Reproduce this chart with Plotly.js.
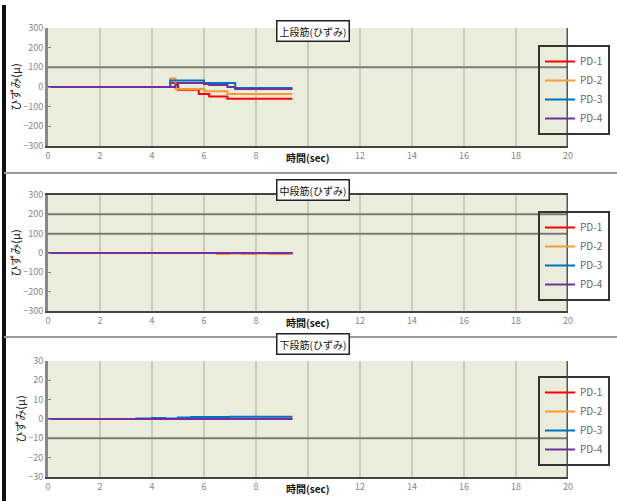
<!DOCTYPE html>
<html><head><meta charset="utf-8">
<script src="https://cdn.plot.ly/plotly-3.0.1.min.js"></script>
<style>html,body{margin:0;padding:0;background:#fff}#chart{width:617px;height:501px}</style>
</head><body><div id="chart"></div>
<script>
// ---- data ----
const seriesNames = ["PD-1","PD-2","PD-3","PD-4"];
const seriesColors = ["#ff0000","#ff9933","#0070c0","#7030a0"];
const panelTitles = ["上段筋(ひずみ)","中段筋(ひずみ)","下段筋(ひずみ)"];
const yTitle = "ひずみ(μ)";
const xTitle = "時間(sec)";
const xTickVals = [0,2,4,6,8,10,12,14,16,18,20];
const xTickText = ["0","2","4","6","8","","12","14","16","18","20"];
const y1Ticks = [300,200,100,0,-100,-200,-300];
const y2Ticks = [300,200,100,0,-100,-200,-300];
const y3Ticks = [30,20,10,0,-10,-20,-30];
const refLines1 = [100];
const refLines2 = [200,100];
const refLines3 = [-10];

// panel 1
const t1 = [0,1,2,3,4,4.6,4.7,4.9,5.0,5.5,5.8,6.0,6.2,6.6,6.9,7.2,8.0,9.0,9.4];
const p1_pd1 = [0,0,0,0,0,0,20,20,-14,-14,-36,-36,-48,-48,-60,-60,-60,-60,-60];
const p1_pd2 = [0,0,0,0,0,0,43,-10,-10,-10,-10,-22,-22,-22,-36,-36,-36,-36,-36];
const p1_pd3 = [0,0,0,0,0,0,33,33,33,33,33,20,20,20,20,-5,-5,-5,-5];
const p1_pd4 = [0,0,0,0,0,0,0,10,20,20,20,15,10,10,0,-10,-10,-10,-10];
// panel 2
const t2 = [0,2,4,6,6.5,7,7.5,8,8.5,9,9.4];
const p2_pd1 = [0,0,0,0,-2,0,-3,0,-2,-2,-2];
const p2_pd2 = [0,0,0,0,-4,-2,-4,-3,-4,-3,-4];
const p2_pd3 = [0,0,0,0,0,0,0,0,0,0,0];
const p2_pd4 = [0,0,0,0,0,0,0,0,0,0,0];
// panel 3
const t3 = [0,1,2,3,3.4,4,4.5,5,5.5,6,7,8,9,9.4];
const p3_pd1 = [0,0,0,0,0,0,0,0,0,0,0,0,0,0];
const p3_pd2 = [0,0,0,0,0,0,0,0,0.2,0.3,0.2,0.3,0.2,0.2];
const p3_pd3 = [0,0,0,0,0.3,0.5,0.3,0.8,1,1,1.2,1.2,1.2,1.2];
const p3_pd4 = [0,0,0,0,0,0,0,0,0,0,0,0,0,0];

// ---- build ----
const W=617,H=501,L=48,R=49;
const px2py = p => 1 - p/H;
const px2x = p => (p-L)/(W-L-R);
const panels = [
  {t:t1, ys:[p1_pd1,p1_pd2,p1_pd3,p1_pd4], xa:'x', ya:'y', lg:'legend', top:28, bot:146, ticks:y1Ticks, refs:refLines1, lgTop:45, title:panelTitles[0], titleY:20},
  {t:t2, ys:[p2_pd1,p2_pd2,p2_pd3,p2_pd4], xa:'x2', ya:'y2', lg:'legend2', top:195, bot:311, ticks:y2Ticks, refs:refLines2, lgTop:211, title:panelTitles[1], titleY:190},
  {t:t3, ys:[p3_pd1,p3_pd2,p3_pd3,p3_pd4], xa:'x3', ya:'y3', lg:'legend3', top:361, bot:477, ticks:y3Ticks, refs:refLines3, lgTop:376, title:panelTitles[2], titleY:355}
];
const FONT = "'Noto Sans CJK JP', 'DejaVu Sans', sans-serif";
const traces=[]; const layout={
  width:W,height:H,margin:{l:L,r:R,t:0,b:0},paper_bgcolor:'#fff',plot_bgcolor:'#eaeddc',
  font:{family:FONT,size:9,color:'#777'},showlegend:true,shapes:[],annotations:[]
};
panels.forEach((p,i)=>{
  seriesNames.forEach((n,k)=>{
    traces.push({type:'scatter',mode:'lines',x:p.t,y:p.ys[k],name:n,xaxis:p.xa,yaxis:p.ya,
      legend:p.lg,line:{color:seriesColors[k],width:2,shape:'hv'},hoverinfo:'skip'});
  });
  const s = i===0?'':String(i+1);
  layout['xaxis'+s]={domain:[0,1],anchor:'y'+s,range:[0,20],tickvals:xTickVals,ticktext:xTickText,
    showgrid:true,gridcolor:'#c9ccb9',gridwidth:1.5,zeroline:false,showline:true,linecolor:'#444',linewidth:2,
    ticks:'',tickfont:{size:9,color:'#888',family:FONT},fixedrange:true, mirror: i===1};
  layout['yaxis'+s]={domain:[px2py(p.bot),px2py(p.top)],anchor:'x'+s,range:[p.ticks[p.ticks.length-1],p.ticks[0]],
    tickvals:p.ticks,showgrid:false,zeroline:false,showline:true,linecolor:'#888',linewidth:3,
    ticks:'inside',ticklen:3,tickcolor:'#888',tickfont:{size:9,color:'#888',family:FONT},
    title:{text:yTitle,font:{size:11,color:'#222',family:FONT},standoff:0},fixedrange:true};
  layout[p.lg==='legend'?'legend':p.lg]={x:px2x(538),xanchor:'left',y:px2py(p.lgTop),yanchor:'top',
    bgcolor:'rgba(0,0,0,0)',bordercolor:'#333',borderwidth:2,font:{size:10,color:'#666',family:FONT},
    tracegroupgap:0,itemwidth:30};
  p.refs.forEach(v=>layout.shapes.push({type:'line',xref:p.xa,yref:p.ya,x0:0,x1:20,y0:v,y1:v,line:{color:'#7a7a72',width:2}}));
  layout.shapes.push({type:'line',xref:p.xa,yref:p.ya,x0:20,x1:20,y0:p.ticks[p.ticks.length-1],y1:p.ticks[0],line:{color:'#555',width:3}});
  layout.annotations.push({xref:'paper',yref:'paper',x:px2x(313),y:px2py(p.titleY),text:p.title,showarrow:false,
    font:{size:10,color:'#111',family:FONT},bgcolor:'#fff',bordercolor:'#222',borderwidth:1.5,borderpad:2});
  // x-axis title sits where the "10" tick label would be
  layout.annotations.push({xref:p.xa,yref:'paper',x:10,y:px2py(p.bot+11),text:'<b>'+xTitle+'</b>',showarrow:false,
    font:{size:10,color:'#111',family:FONT},yanchor:'middle'});
});
// figure frame lines
layout.shapes.push({type:'line',xref:'paper',yref:'paper',x0:px2x(4),x1:px2x(4),y0:0,y1:px2py(5),line:{color:'#111',width:4}});
[173,337].forEach(v=>layout.shapes.push({type:'line',xref:'paper',yref:'paper',x0:px2x(4),x1:px2x(617),y0:px2py(v),y1:px2py(v),line:{color:'#999',width:2}}));
Plotly.newPlot('chart',traces,layout,{staticPlot:true,displayModeBar:false});
</script></body></html>
